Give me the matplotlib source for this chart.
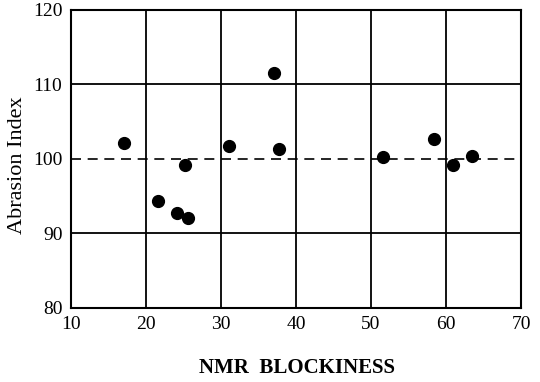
import matplotlib.pyplot as plt

# NMR blockiness vs abrasion index
blockiness = [17.1, 21.6, 24.1, 25.2, 25.6, 31.1, 37.1, 37.7, 51.6, 58.4, 60.9, 63.4]
abrasion = [102.1, 94.3, 92.7, 99.2, 92.1, 101.7, 111.6, 101.3, 100.3, 102.7, 99.2, 100.4]
xticks = [10, 20, 30, 40, 50, 60, 70]
yticks = [80, 90, 100, 110, 120]
xgrid = [20, 30, 40, 50, 60]
ygrid = [90, 110]
reference = 100

plt.rcParams['font.family'] = ['Liberation Serif', 'DejaVu Serif']

fig = plt.figure(figsize=(5.4, 3.82), dpi=100)
ax = fig.add_axes([0.131, 0.194, 0.834, 0.780])

ax.plot(blockiness, abrasion, 'o', color='black', markersize=8.5, zorder=3)
ax.axhline(reference, color='black', linestyle=(0, (6, 4)), linewidth=1.2, zorder=2)
for gx in xgrid:
    ax.axvline(gx, color='black', linewidth=1.3, zorder=1)
for gy in ygrid:
    ax.axhline(gy, color='black', linewidth=1.3, zorder=1)

ax.set_xlim(10, 70)
ax.set_ylim(80, 120)
ax.set_xticks(xticks)
ax.set_yticks(yticks)
ax.tick_params(length=0, labelsize=14, pad=6)
for s in ax.spines.values():
    s.set_linewidth(1.5)

ax.set_ylabel("Abrasion Index", fontsize=16)
ax.yaxis.set_label_coords(-0.098, 0.48)
fig.text(0.55, 0.037, "NMR  BLOCKINESS", fontsize=15, fontweight='bold',
         ha='center', va='center')

plt.savefig('out.png', dpi=100)
